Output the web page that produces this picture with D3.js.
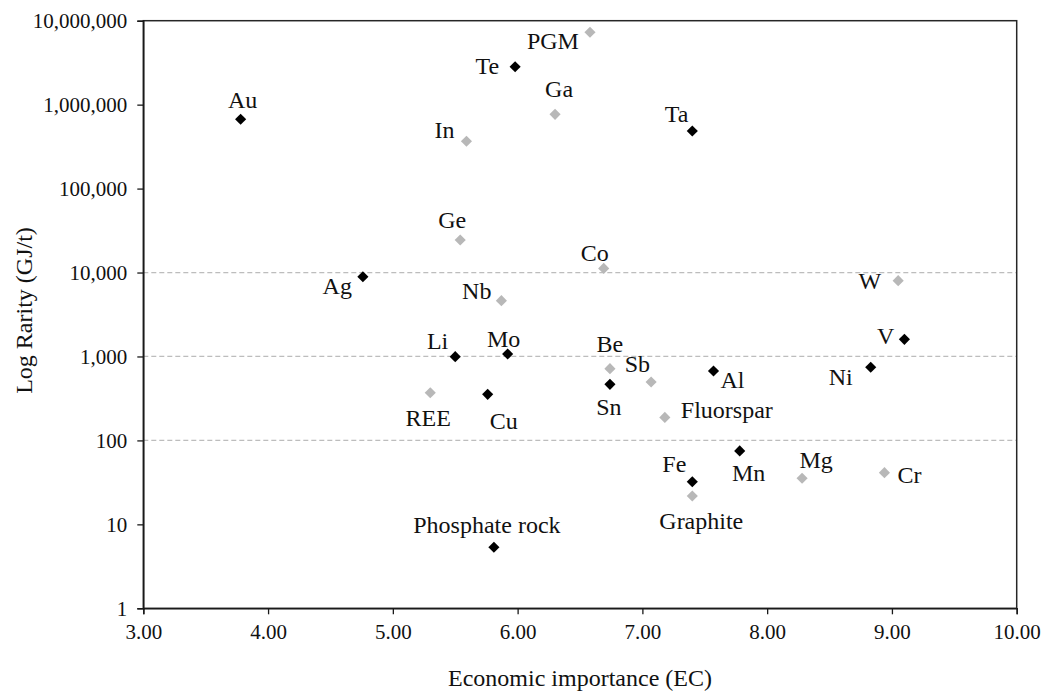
<!DOCTYPE html>
<html>
<head>
<meta charset="utf-8">
<script src="https://cdn.jsdelivr.net/npm/d3@7"></script>
<style>
  body { margin: 0; background: #fff; }
  svg text { font-family: "Liberation Serif", "Times New Roman", serif; fill: #111; }
</style>
</head>
<body>
<div id="chart"></div>
<script>
// data
const minerals = ["Au", "Te", "PGM", "Ga", "Ta", "In", "Ge", "Co", "Ag", "Nb", "W",
  "Li", "Mo", "V", "Be", "Sb", "Al", "Ni", "Sn", "REE", "Cu", "Fluorspar",
  "Mn", "Mg", "Cr", "Fe", "Graphite", "Phosphate rock"];
const economicImportance = [3.78, 5.98, 6.58, 6.30, 7.40, 5.59, 5.54, 6.69, 4.76, 5.87, 9.05,
  5.50, 5.92, 9.10, 6.74, 7.07, 7.57, 8.83, 6.74, 5.30, 5.76, 7.18,
  7.78, 8.28, 8.94, 7.40, 7.40, 5.81];
const rarity = [670000, 2830000, 7280000, 767000, 486000, 366000, 24400, 11200, 8920, 4620, 8000,
  994, 1070, 1600, 716, 497, 671, 743, 466, 370, 354, 188,
  75, 35.4, 41.3, 32.2, 21.8, 5.33];
// "b" = black markers, "g" = grey markers
const group = ["b", "b", "g", "g", "b", "g", "g", "g", "b", "g", "g",
  "b", "b", "b", "g", "g", "b", "b", "b", "g", "b", "g",
  "b", "g", "g", "b", "g", "b"];

const xTicks = [3, 4, 5, 6, 7, 8, 9, 10];
const yTicks = [1, 10, 100, 1000, 10000, 100000, 1000000, 10000000];
const gridValues = [100, 1000, 10000];

// where each label sits relative to its marker: [anchor, dx, dy]
const labelPlace = {
  "Au": ["middle", 2, -11], "Te": ["end", -16, 7], "PGM": ["end", -11, 17],
  "Ga": ["middle", 4, -17], "Ta": ["end", -4, -9], "In": ["end", -12, -3],
  "Ge": ["middle", -8, -12], "Co": ["middle", -9, -7], "Ag": ["end", -11, 17],
  "Nb": ["end", -10, -2], "W": ["end", -17, 8], "Li": ["end", -7, -8],
  "Mo": ["middle", -4, -7], "V": ["end", -10, 5], "Be": ["middle", 0, -17],
  "Sb": ["end", -1, -10], "Al": ["start", 7, 17], "Ni": ["end", -18, 18],
  "Sn": ["middle", -1, 31], "REE": ["middle", -2, 33], "Cu": ["middle", 16, 35],
  "Fluorspar": ["start", 16, 1], "Mn": ["middle", 9, 30], "Mg": ["middle", 14, -10],
  "Cr": ["start", 13, 10], "Fe": ["end", -6, -10], "Graphite": ["middle", 9, 33],
  "Phosphate rock": ["middle", -7, -14]
};

var serif = "'Liberation Serif', 'Times New Roman', serif";

var margin = { top: 20.7, right: 27.3, bottom: 82.7, left: 143.3 },
  width = 1044 - margin.left - margin.right,
  height = 691 - margin.top - margin.bottom;

var svg = d3.select("#chart")
  .append("svg")
  .attr("width", 1044)
  .attr("height", 691)
  .append("g")
  .attr("transform", "translate(" + margin.left + "," + margin.top + ")");

var x = d3.scaleLinear().domain([3, 10]).range([0, width]);
var y = d3.scaleLog().base(10).domain([1, 10000000]).range([height, 0]);

// dashed reference lines
svg.append("g")
  .selectAll("line")
  .data(gridValues)
  .enter()
  .append("line")
  .attr("x1", 0)
  .attr("x2", width)
  .attr("y1", (d) => y(d))
  .attr("y2", (d) => y(d))
  .style("stroke", "#bdbdbd")
  .style("stroke-width", 1.2)
  .style("stroke-dasharray", "5,3");

// frame (top and right)
svg.append("rect")
  .attr("width", width)
  .attr("height", height)
  .style("fill", "none")
  .style("stroke", "#262626")
  .style("stroke-width", 1.5);

// axes
var xAxis = svg.append("g")
  .attr("transform", "translate(0," + height + ")")
  .call(d3.axisBottom(x).tickValues(xTicks).tickFormat(d3.format(".2f")).tickSize(6).tickPadding(10));

var yAxis = svg.append("g")
  .call(d3.axisLeft(y).tickValues(yTicks).tickFormat(d3.format(",")).tickSize(6).tickPadding(10));

[xAxis, yAxis].forEach(function (a) {
  a.select(".domain").style("stroke", "#1a1a1a").style("stroke-width", 1.5);
  a.selectAll(".tick line").style("stroke", "#1a1a1a").style("stroke-width", 1.3);
  a.selectAll("text").style("font-size", "21px").style("font-family", serif).style("fill", "#111");
});

// axis titles
svg.append("text")
  .attr("x", width / 2)
  .attr("y", height + 78)
  .style("text-anchor", "middle")
  .style("font-family", serif)
  .style("font-size", "24px")
  .text("Economic importance (EC)");

svg.append("text")
  .attr("transform", "rotate(-90)")
  .attr("x", 0 - (310.5 - margin.top))
  .attr("y", 0 - margin.left + 32)
  .style("text-anchor", "middle")
  .style("font-family", serif)
  .style("font-size", "24px")
  .text("Log Rarity (GJ/t)");

// points
var points = minerals.map(function (m, i) {
  return { name: m, ec: economicImportance[i], rarity: rarity[i], group: group[i] };
});

var diamond = d3.symbol().type(d3.symbolSquare).size(62);

svg.append("g")
  .selectAll("path")
  .data(points)
  .enter()
  .append("path")
  .attr("d", diamond)
  .attr("transform", (d) => "translate(" + x(d.ec) + "," + y(d.rarity) + ") rotate(45)")
  .style("fill", (d) => (d.group === "b" ? "#000000" : "#b8b8b8"));

// labels
svg.append("g")
  .selectAll("text")
  .data(points)
  .enter()
  .append("text")
  .attr("x", (d) => x(d.ec) + labelPlace[d.name][1])
  .attr("y", (d) => y(d.rarity) + labelPlace[d.name][2])
  .style("text-anchor", (d) => labelPlace[d.name][0])
  .style("font-family", serif)
  .style("font-size", "24px")
  .text((d) => d.name);
</script>
</body>
</html>
